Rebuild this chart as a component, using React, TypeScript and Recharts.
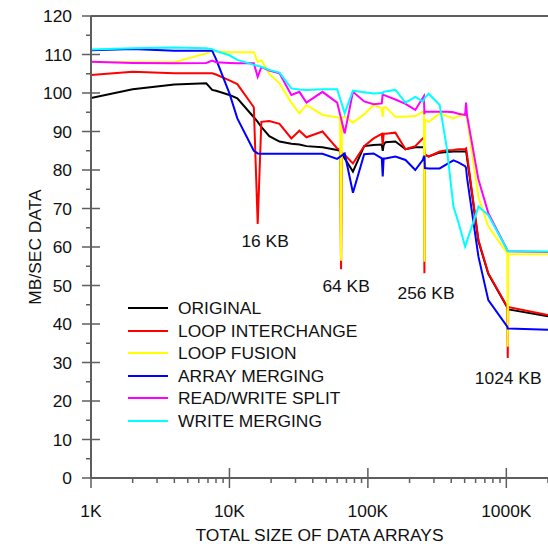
import React from "react";
import { LineChart, Line, XAxis, YAxis, ReferenceLine, ReferenceDot } from "recharts";

// Total size of data arrays, in KB
const SIZES_KB = [1, 2, 4, 6.8, 7.5, 8, 10, 11.4, 15, 16, 17, 19.4, 23, 28, 32, 36, 47, 60, 63, 64, 65, 68, 78, 94, 110, 126, 128, 130, 134, 158, 187, 220, 249, 254, 256, 258, 275, 330, 372, 415, 450, 504, 512, 520, 629, 741, 1016, 1024, 1032, 2000];

// MB/sec for each variant
const ORIGINAL = [98.7, 101, 102.2, 102.5, 100.8, 100.6, 99.5, 98.6, 93.7, 92.5, 91.2, 88.8, 87.4, 86.8, 86.6, 86.2, 85.9, 85.2, 85, 84.5, 84.2, 83, 79.6, 86.2, 86.5, 86.6, 85, 86.5, 87.2, 87.4, 85.4, 85.9, 85.9, 86, 85.5, 84, 83.5, 84.5, 84.7, 84.8, 84.8, 84.8, 85, null, 61.5, 53, 44.3, 44, 43.8, 42];
const LOOP_INTERCHANGE = [104.7, 105.5, 105.1, 105.1, 105.1, 104.8, 103.3, 102.3, 96.3, 66, 92.5, 92.7, 92, 88.2, 90.2, 88.5, 90, 85.6, 85.2, 54.2, 84.5, 83.9, 81.7, 86.2, 88.2, 89.4, 86.5, 89.4, 89.4, 89.7, 85.4, 86.2, 88.2, 88.5, 53.2, 84, 83.5, 84.8, 85.1, 85.2, 85.4, 85.4, 85.6, 84, 61.8, 53.2, 44.5, 31.2, 44.4, 42.3];
const LOOP_FUSION = [108.1, 108, 108, 110.3, 111, 110.8, 110.6, 110.6, 110.6, 108.1, 108.5, 105, 102.5, 97.5, 94.7, 96.9, 94.3, 93.7, 93.5, 56.4, 93.5, 93.9, 92.3, 94.5, 96.9, 96, 93.8, 96.2, 96.4, 93.8, 93.8, 94, 95.1, 95, 56.2, 93, 92.5, 94.7, 94, 93.4, 94, 94.3, 94.3, 93.5, 73, 65.3, 58.4, 34.1, 58.2, 58.1];
const ARRAY_MERGING = [111.1, 111.4, 111, 111, 111, 108.8, 99.9, 93.4, 85, 84.3, 84.2, 84.2, 84.2, 84.2, 84.2, 84.2, 84.2, 82.9, null, null, null, 84.3, 74.1, 84.1, 84.3, 83, 78.3, 83, 83, 83.5, 82.6, 80, 82.6, 83.5, 83.5, 80.5, 80.4, 80.4, 81.5, 82.5, 82, 81, 80.5, 78, 57.5, 46.2, 39.3, 38.8, 38.8, 38.5];
const READ_WRITE_SPLIT = [108.1, 107.8, 107.7, 107.8, 108.4, 108, 107.8, 107.7, 107.7, 104.2, 106.7, 105.8, 105.1, 99.5, 100.3, 97.5, 100.3, 97.5, null, null, null, 89.5, 100.3, 97.8, 97.1, 97.3, 99.8, 99.5, 99.3, 98.3, 97.2, 95.6, 98.7, 99.2, 94.5, 95.1, 95.1, 95.1, 95.1, 95, 94.6, 94.3, 97.5, 94.2, 77.5, 68.8, 59.2, 59, 58.9, 58.7];
const WRITE_MERGING = [111.3, 111.6, 111.8, 111.6, 111.4, 110.9, 109.8, 108.6, 107.3, null, 106.8, 106, 105.3, 101.2, 100.9, 100.8, 101, 101, null, null, null, 94.7, 100.6, 100.2, 99.9, 100, 99.9, 100.3, 100.4, 100.8, 97.5, 99, 97.8, 98.2, 98.5, 98.8, 99.8, 96.9, 85.6, 70.5, 66.5, 60.1, null, null, 70.5, 68.3, 59.2, 59, 58.9, 58.8];

const SERIES = [
  { key: "original", name: "ORIGINAL", color: "#000000", values: ORIGINAL },
  { key: "interchange", name: "LOOP INTERCHANGE", color: "#ff0000", values: LOOP_INTERCHANGE },
  { key: "fusion", name: "LOOP FUSION", color: "#ffff00", values: LOOP_FUSION },
  { key: "arrayMerge", name: "ARRAY MERGING", color: "#0000ff", values: ARRAY_MERGING },
  { key: "rwSplit", name: "READ/WRITE SPLIT", color: "#ff00ff", values: READ_WRITE_SPLIT },
  { key: "writeMerge", name: "WRITE MERGING", color: "#00ffff", values: WRITE_MERGING },
];

const X_MAJOR = [1, 10, 100, 1000];
const X_MAJOR_LABELS = ["1K", "10K", "100K", "1000K"];
const X_TICKS = [1, 2, 3, 4, 5, 6, 7, 8, 9, 10, 20, 30, 40, 50, 60, 70, 80, 90, 100, 200, 300, 400, 500, 600, 700, 800, 900, 1000, 2000];
const Y_TICKS = [0, 5, 10, 15, 20, 25, 30, 35, 40, 45, 50, 55, 60, 65, 70, 75, 80, 85, 90, 95, 100, 105, 110, 115, 120];

const ANNOTATION_TEXT = ["16 KB", "64 KB", "256 KB", "1024 KB"];
const ANNOTATION_X = [18.1, 69.6, 263, 1031];
const ANNOTATION_Y = [61.6, 49.9, 48, 26];

const data = SIZES_KB.map((kb, i) => {
  const row: any = { kb };
  SERIES.forEach((s) => (row[s.key] = s.values[i]));
  return row;
});

const AXIS = "#5e5e5e";
const FONT = '"Liberation Sans", Arial, sans-serif';
const FS = 17.4;

const XTick = (props: any) => {
  const { x, y, payload } = props;
  const v = payload.value;
  const mi = X_MAJOR.indexOf(v);
  const major = mi >= 0;
  return (
    <g>
      <line x1={x} x2={x} y1={major ? y - 10 : y} y2={major ? y + 10 : y + 5} stroke={AXIS} strokeWidth={1.5} />
      {major && (
        <text x={x} y={y + 33} dy="0.35em" textAnchor="middle" fontSize={FS} fill="#111" fontFamily={FONT}>
          {X_MAJOR_LABELS[mi]}
        </text>
      )}
    </g>
  );
};

const YTick = (props: any) => {
  const { x, y, payload } = props;
  const v = payload.value;
  const major = v % 10 === 0;
  return (
    <g>
      <line x1={major ? x - 9 : x - 5} x2={major ? x + 9 : x} y1={y} y2={y} stroke={AXIS} strokeWidth={1.5} />
      {major && (
        <text x={x - 19} y={y} dy="0.35em" textAnchor="end" fontSize={FS} fill="#111" fontFamily={FONT}>
          {v}
        </text>
      )}
    </g>
  );
};

const XTitle = (props: any) => {
  const vb = props.viewBox || {};
  return (
    <text x={vb.x + vb.width / 2} y={vb.y + 57} dy="0.35em" textAnchor="middle" fontSize={FS} fill="#111" fontFamily={FONT}>
      TOTAL SIZE OF DATA ARRAYS
    </text>
  );
};

const YTitle = (props: any) => {
  const vb = props.viewBox || {};
  const cx = vb.x + 35;
  const cy = vb.y + vb.height / 2;
  return (
    <text x={cx} y={cy} dy="0.35em" textAnchor="middle" fontSize={FS} fill="#111" fontFamily={FONT} transform={`rotate(-90, ${cx}, ${cy})`}>
      MB/SEC DATA
    </text>
  );
};

export default function App() {
  return (
    <div style={{ position: "absolute", left: 0, top: 0, width: 548, height: 548, background: "#fff", fontFamily: FONT }}>
      <LineChart width={548} height={548} data={data} margin={{ top: 16, right: 0, left: 0, bottom: 0 }} style={{ fontFamily: FONT }}>
        <XAxis
          dataKey="kb"
          type="number"
          scale="log"
          domain={[1, 2000]}
          allowDataOverflow
          ticks={X_TICKS}
          interval={0}
          tickSize={0}
          tickMargin={0}
          tick={<XTick />}
          height={70}
          axisLine={{ stroke: AXIS, strokeWidth: 2 }}
          label={<XTitle />}
        />
        <YAxis
          type="number"
          domain={[0, 120]}
          allowDataOverflow
          ticks={Y_TICKS}
          interval={0}
          tickSize={0}
          tickMargin={0}
          tick={<YTick />}
          width={91}
          axisLine={{ stroke: AXIS, strokeWidth: 2 }}
          label={<YTitle />}
        />
        <ReferenceLine y={120} stroke={AXIS} strokeWidth={2} />
        {SERIES.map((s) => (
          <Line
            key={s.key}
            dataKey={s.key}
            name={s.name}
            stroke={s.color}
            strokeWidth={2}
            dot={false}
            activeDot={false}
            connectNulls
            isAnimationActive={false}
            type="linear"
          />
        ))}
        {ANNOTATION_TEXT.map((t, i) => (
          <ReferenceDot
            key={t}
            x={ANNOTATION_X[i]}
            y={ANNOTATION_Y[i]}
            r={0}
            fill="none"
            stroke="none"
            label={{ value: t, position: "center", fontSize: FS, fill: "#111", fontFamily: FONT }}
          />
        ))}
      </LineChart>
      <div style={{ position: "absolute", left: 128, top: 297 }}>
        {SERIES.map((s) => (
          <div key={s.key} style={{ display: "flex", alignItems: "center", height: 22.5 }}>
            <div style={{ width: 40, height: 2, background: s.color }} />
            <span style={{ marginLeft: 10, fontSize: FS, color: "#111", lineHeight: "22.5px", whiteSpace: "nowrap" }}>{s.name}</span>
          </div>
        ))}
      </div>
    </div>
  );
}
